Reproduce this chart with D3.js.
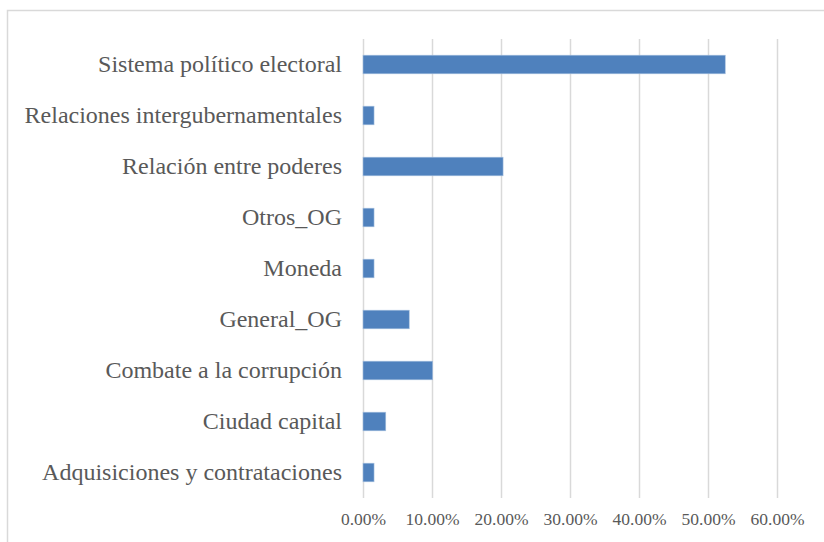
<!DOCTYPE html>
<html>
<head>
<meta charset="utf-8">
<script src="https://cdn.jsdelivr.net/npm/d3@7"></script>
<style>
  body { margin: 0; background: #fff; }
  svg { display: block; }
  .tick line { stroke: #d9d9d9; stroke-width: 1.5; }
  .domain { display: none; }
  text { font-family: "Liberation Serif", "Times New Roman", serif; fill: #595959; }
</style>
</head>
<body>
<div id="chart"></div>
<script>
var categories = ["Sistema político electoral", "Relaciones intergubernamentales", "Relación entre poderes",
    "Otros_OG", "Moneda", "General_OG", "Combate a la corrupción", "Ciudad capital",
    "Adquisiciones y contrataciones"];
var values = [0.525, 0.016, 0.203, 0.016, 0.016, 0.067, 0.101, 0.033, 0.016];
var xTicks = [0, 0.1, 0.2, 0.3, 0.4, 0.5, 0.6];

var W = 824, H = 542;
var margin = {top: 39, right: 47, bottom: 44, left: 363};
var width = W - margin.left - margin.right;
var height = H - margin.top - margin.bottom;

var svg = d3.select("#chart").append("svg")
    .attr("width", W)
    .attr("height", H);

// chart frame (cut off at right and bottom)
svg.append("rect")
    .attr("x", 7.5).attr("y", 10.5)
    .attr("width", W).attr("height", H)
    .attr("fill", "none")
    .attr("stroke", "#d9d9d9")
    .attr("stroke-width", 1.5);

var g = svg.append("g")
    .attr("transform", "translate(" + margin.left + "," + margin.top + ")");

var x = d3.scaleLinear().domain([0, 0.6]).range([0, 414]);
var y = d3.scaleBand().domain(categories).range([0, height]).paddingInner(0.635).paddingOuter(0.3175);

// gridlines
g.append("g")
    .attr("class", "grid")
    .call(d3.axisBottom(x).tickValues(xTicks).tickSize(height).tickFormat(""))
    .selectAll(".tick text").remove();

// bars
g.selectAll(".bar")
    .data(categories)
    .enter().append("rect")
    .attr("class", "bar")
    .attr("x", x(0))
    .attr("y", function (d) { return y(d); })
    .attr("width", function (d, i) { return x(values[i]); })
    .attr("height", y.bandwidth())
    .attr("fill", "#4f81bd")
    .attr("stroke", "#a7c0de")
    .attr("stroke-width", 0.6);

// x axis labels
var xAxis = g.append("g")
    .attr("transform", "translate(0," + height + ")")
    .call(d3.axisBottom(x).tickValues(xTicks).tickSize(0).tickPadding(15)
        .tickFormat(function (d) { return (d * 100).toFixed(2) + "%"; }));
xAxis.selectAll("text")
    .style("font-size", "17.5px");

// y axis labels
var yAxis = g.append("g")
    .call(d3.axisLeft(y).tickSize(0).tickPadding(21));
yAxis.selectAll("text")
    .style("font-size", "24px");
</script>
</body>
</html>
